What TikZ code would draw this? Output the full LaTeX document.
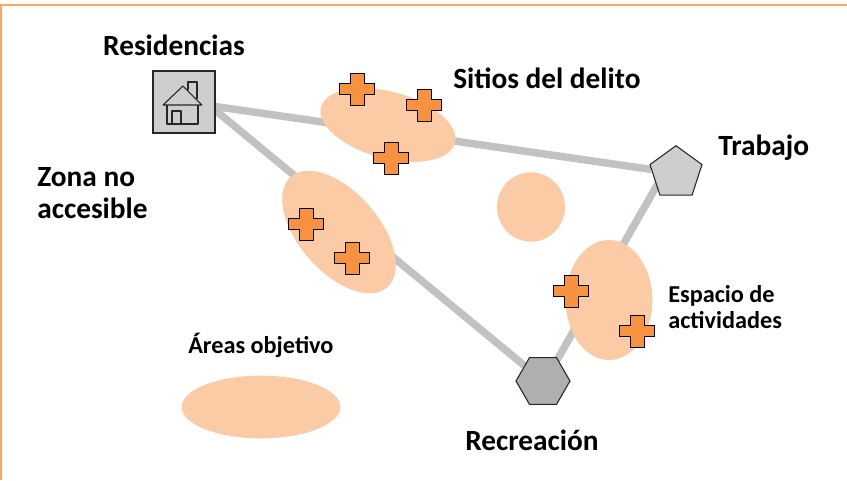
\documentclass[tikz,border=0pt]{standalone}
\usepackage{fontspec}
\setmainfont{Carlito}
\usetikzlibrary{shapes.geometric, positioning, backgrounds}

\definecolor{zoneorange}{HTML}{FBCBA5}
\definecolor{crossorange}{HTML}{F79240}
\definecolor{framecolor}{HTML}{F9A86A}
\definecolor{linegray}{HTML}{C1C2C4}
\definecolor{lightgray}{HTML}{CDCED0}
\definecolor{darkgray}{HTML}{AEAFB1}

\tikzset{
    zone/.style={ellipse, fill=zoneorange, inner sep=0pt},
    route/.style={draw=linegray, line width=5.6pt},
    place/.style={draw=black!85, line width=0.8pt, inner sep=0pt},
    bigtext/.style={font=\bfseries\fontsize{22}{23.5}\selectfont, align=left},
    smalltext/.style={font=\bfseries\fontsize{18.2}{19.5}\selectfont, align=left},
    house/.style={draw=black!85, line width=0.8pt, line join=round},
    crosssign/.pic={
        \draw[draw=black, fill=crossorange, line width=0.7pt]
            (-17.5,-5.5) -- (-7,-5.5) -- (-7,-16) -- (7,-16) -- (7,-5.5) -- (17.5,-5.5)
            -- (17.5,5.5) -- (7,5.5) -- (7,16) -- (-7,16) -- (-7,5.5) -- (-17.5,5.5) -- cycle;
    }
}

\begin{document}
\begin{tikzpicture}[x=0.75pt, y=-0.75pt]
    \useasboundingbox (0,0) rectangle (847,480);
    \draw[framecolor, line width=1.5pt] (1,480) -- (1,5) -- (847,5);

    % places
    \node[place, rectangle, fill=lightgray, minimum size=46.5pt] (residencias) at (184,102) {};
    \node[place, regular polygon, regular polygon sides=5, fill=lightgray, minimum size=41pt] (trabajo) at (676,173) {};
    \node[place, regular polygon, regular polygon sides=6, shape border rotate=0, fill=darkgray, minimum size=40.5pt] (recreacion) at (543,381) {};

    % routes
    \begin{scope}[on background layer]
        \draw[route] (residencias) -- (trabajo);
        \draw[route] (residencias.-15) -- (recreacion);
        \draw[route] ([xshift=-9pt]trabajo.center) -- ([xshift=1.5pt]recreacion.center);
    \end{scope}

    % house
    \draw[house] (163,105) -- (183,86) -- (202,105) -- cycle;
    \draw[house] (167,105) -- (167,124) -- (198,124) -- (198,105);
    \draw[house] (172,124) -- (172,111) -- (181,111) -- (181,124);
    \draw[house] (188,90) -- (188,82) -- (197,82) -- (197,99);

    % zones
    \node[zone, minimum width=104pt, minimum height=50pt, rotate=-15] (zonedelito) at (388,125) {};
    \node[zone, minimum width=110pt, minimum height=60pt, rotate=-49] (zonelateral) at (339,232) {};
    \node[zone, minimum width=65pt, minimum height=90pt] (zoneactividad) at (609,300) {};
    \node[zone, minimum width=51pt, minimum height=52pt] (zonelibre) at (531,207) {};
    \node[zone, minimum width=119pt, minimum height=47pt] (zoneleyenda) at (261,407) {};

    % crosses
    \foreach \cx/\cy in {357/89, 424/105, 391/158, 306/224, 352/258, 571/291, 637/331}
        \pic at (\cx,\cy) {crosssign};

    % labels
    \node[bigtext] (labelres) at (174,45) {Residencias};
    \node[bigtext, anchor=west, inner sep=0pt] (labeldelito) at (453,78) {Sitios del delito};
    \node[bigtext, anchor=west, inner sep=0pt] (labeltrabajo) at (718,148) {Trabajo};
    \node[bigtext, anchor=west, inner sep=0pt] (labelzona) at (37,193) {Zona no\\accesible};
    \node[bigtext] (labelrec) at (532,440) {Recreación};
    \node[smalltext, anchor=west, inner sep=0pt] (labelesp) at (668,307) {Espacio de\\actividades};
    \node[smalltext, anchor=west, inner sep=0pt] (labelareas) at (188,345) {Áreas objetivo};
\end{tikzpicture}
\end{document}
